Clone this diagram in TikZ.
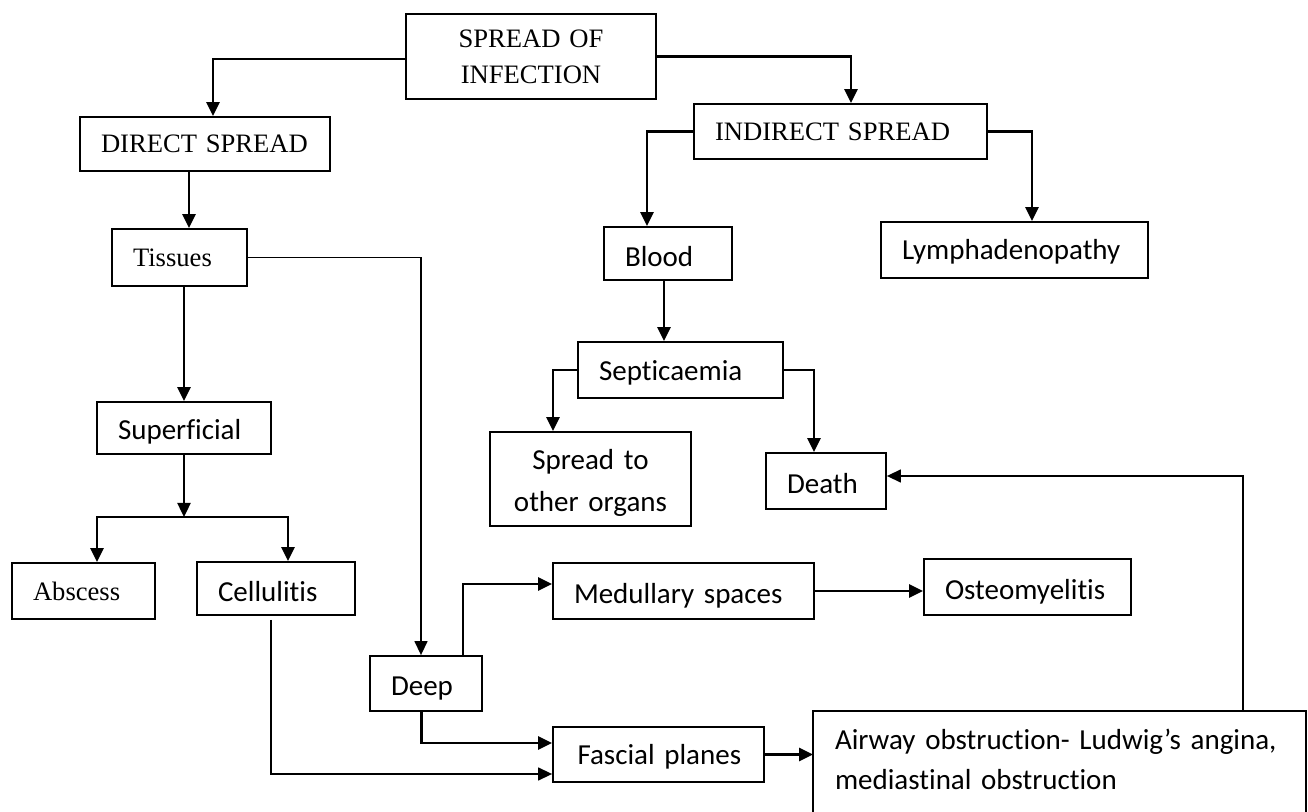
\documentclass[tikz,border=0pt]{standalone}
\usepackage{fontspec}
\usetikzlibrary{arrows.meta}
\newfontfamily\timesfont{Liberation Serif}
\newfontfamily\calfont[Ligatures=NoCommon]{Carlito}
\begin{document}
\begin{tikzpicture}[x=0.5pt,y=-0.5pt,
  bx/.style={draw, line width=0.9pt, inner xsep=10.5pt, inner ysep=0pt, align=left},
  tm/.style={font=\timesfont\fontsize{13.3}{18}\selectfont},
  cb/.style={font=\calfont\fontsize{14.5}{20}\selectfont},
  cbl/.style={cb, text height=#1, text depth=0pt},
  arr/.style={line width=1.2pt, -{Triangle[length=7pt,width=6.5pt]}},
  lightarr/.style={line width=0.7pt, -{Triangle[length=7pt,width=6.5pt]}}]
\useasboundingbox (0,0) rectangle (1308,812);
\fill[white] (0,0) rectangle (1308,812);
\clip (0,0) rectangle (1308,812);

% nodes
\node[bx,tm,align=center,minimum width=125pt,text width=104pt,minimum height=42.5pt] (spread) at (531,56.5) {SPREAD OF\\INFECTION};
\node[bx,tm,minimum width=125pt,text width=104pt,minimum height=27pt] (direct) at (205,144) {DIRECT~SPREAD};
\node[bx,tm,minimum width=146.5pt,text width=125.5pt,minimum height=27.5pt] (indirect) at (840.5,131.5) {INDIRECT~SPREAD};
\node[bx,tm,minimum width=67.5pt,text width=46.5pt,minimum height=28.5pt] (tissues) at (179.5,257.5) {Tissues};
\node[bx,cbl=12.8pt,minimum width=64pt,text width=43pt,minimum height=26.5pt] (blood) at (668,253.5) {Blood};
\node[bx,cbl=10pt,minimum width=133.5pt,text width=112.5pt,minimum height=28pt] (lymph) at (1014.5,250) {Lymphadenopathy};
\node[bx,cbl=10.2pt,minimum width=102.5pt,text width=81.5pt,minimum height=28pt] (septi) at (680.5,370) {Septicaemia};
\node[bx,cbl=11.5pt,minimum width=87pt,text width=66pt,minimum height=26pt] (superficial) at (184,428) {Superficial};
\node[bx,cb,align=center,font=\calfont\fontsize{14.5}{21}\selectfont,text height=10pt,text depth=19.5pt,minimum width=100.5pt,text width=79.5pt,minimum height=47pt] (spreadto) at (590.5,479) {Spread to\\other organs};
\node[bx,cbl=13pt,minimum width=60pt,text width=39pt,minimum height=28pt] (death) at (826,481) {Death};
\node[bx,tm,minimum width=71.5pt,text width=50.5pt,minimum height=28pt] (abscess) at (83.5,591) {Abscess};
\node[bx,cbl=13pt,minimum width=79pt,text width=58pt,minimum height=26.5pt] (cellulitis) at (276,588.5) {Cellulitis};
\node[bx,cbl=13pt,minimum width=130.5pt,text width=109.5pt,minimum height=28pt] (medullary) at (683.5,591) {Medullary~spaces};
\node[bx,cbl=13pt,minimum width=103.5pt,text width=82.5pt,minimum height=28pt] (osteo) at (1027.5,587) {Osteomyelitis};
\node[bx,cbl=11.7pt,minimum width=56pt,text width=35pt,minimum height=27.5pt] (deep) at (426,683.5) {Deep};
\node[bx,cbl=10.2pt,inner xsep=12.25pt,minimum width=105.5pt,text width=81pt,minimum height=27.5pt] (fascial) at (658.5,754.5) {Fascial~planes};
\node[bx,cb,draw=none,minimum width=245.5pt,text width=224.5pt,minimum height=47pt] (airway) at (1059.5,759) {Airway obstruction- Ludwig’s angina,\\mediastinal obstruction};
\draw[line width=0.9pt] ([yshift=-15pt]airway.south west) -- (airway.north west) -- (airway.north east) -- ([yshift=-15pt]airway.south east);

% connectors
\draw[arr] ([yshift=-1.25pt]spread.west) -| ([xshift=4pt]direct.north);
\draw[arr] (spread.east) -| ([xshift=5.25pt]indirect.north);
\draw[arr] ([xshift=-8pt]direct.south) -- ([xshift=-8pt]direct.south |- tissues.north);
\draw[arr] (indirect.west) -| ([xshift=-10.5pt]blood.north);
\draw[arr] (indirect.east) -| ([xshift=8.75pt]lymph.north);
\draw[arr] (tissues.south -| superficial.north) -- (superficial.north);
\draw[lightarr] (tissues.east) -| ([xshift=-2.5pt]deep.north);
\draw[arr] ([xshift=-2pt]blood.south) -- ([xshift=-2pt]blood.south |- septi.north);
\draw[arr] (septi.west) -| ([xshift=-18.75pt]spreadto.north);
\draw[arr] (septi.east) -| ([xshift=-6pt]death.north);
\coordinate (br) at (184,517);
\draw[arr] (superficial.south) -- (br);
\draw[arr] (br) -| ([xshift=6.75pt]abscess.north);
\draw[arr] (br) -| ([xshift=6pt]cellulitis.north);
\draw[lightarr] ([xshift=-2.5pt,yshift=-2pt]cellulitis.south) |- ([yshift=-9.75pt]fascial.west);
\draw[arr] ([xshift=18.5pt]deep.north) |- ([yshift=3.5pt]medullary.west);
\draw[arr] ([xshift=-2.25pt]deep.south) |- ([yshift=5.75pt]fascial.west);
\draw[arr] (medullary.east) -- (medullary.east -| osteo.west);
\draw[arr] (fascial.east) -- (fascial.east -| airway.west);
\draw[lightarr] ([xshift=91.75pt]airway.north) |- ([yshift=2.5pt]death.east);
\end{tikzpicture}
\end{document}
